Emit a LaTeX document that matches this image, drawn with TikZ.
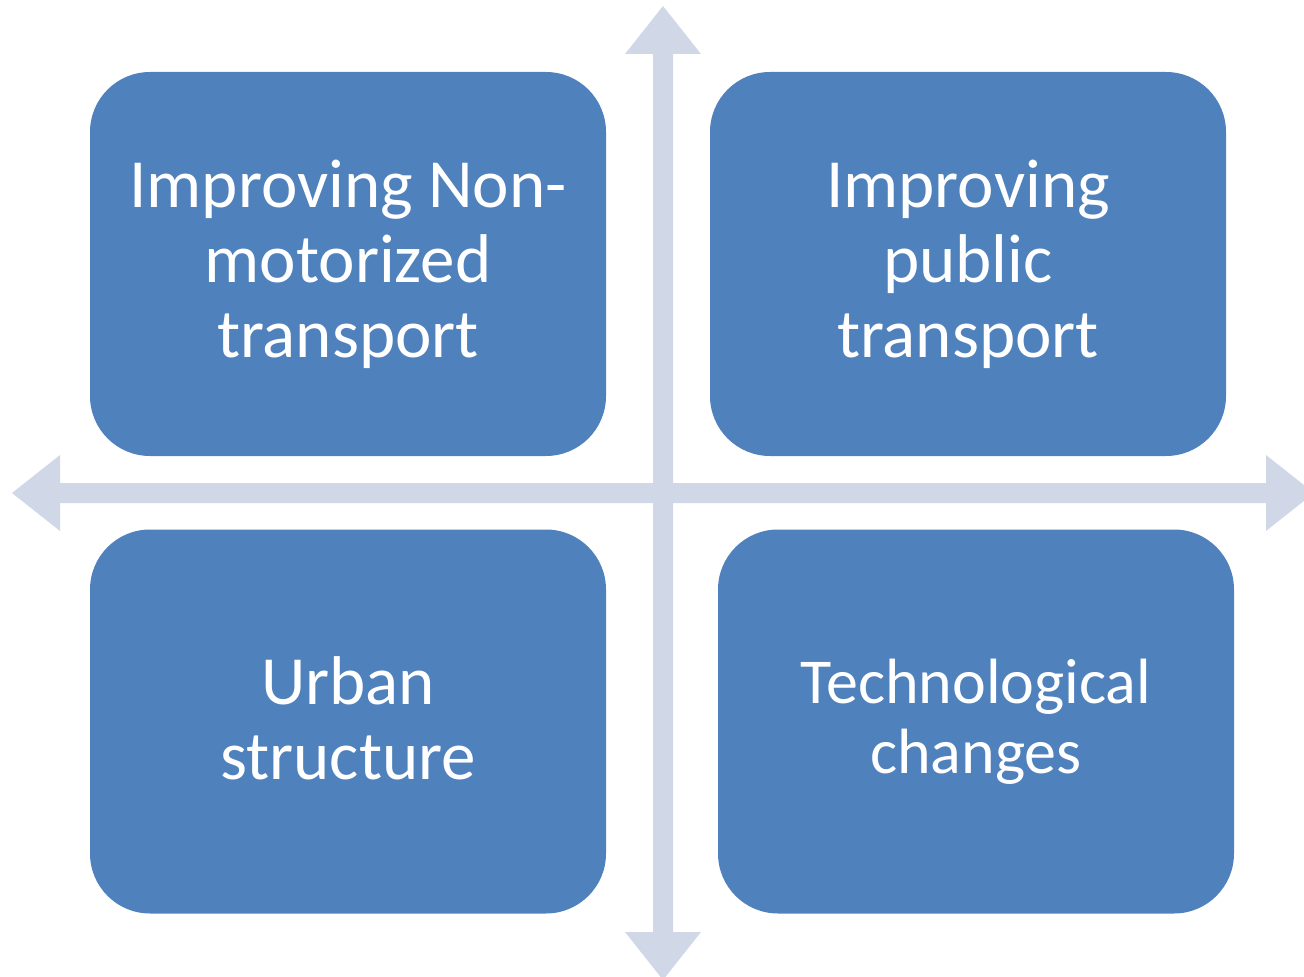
\documentclass[tikz,border=0pt]{standalone}
\usepackage{fontspec}
\setmainfont{Carlito}
\usepackage{xcolor}
\usepackage{tikz}
\usetikzlibrary{calc}
\definecolor{boxblue}{HTML}{4F81BD}
\definecolor{axisgray}{HTML}{D0D8E8}
\tikzset{
  axis/.style={fill=axisgray, draw=none},
  box/.style={rectangle, fill=boxblue, draw=none, rounded corners=45pt,
    minimum width=387pt, minimum height=288pt, inner sep=0pt},
  lab/.style={text=white, align=center, font=\fontsize{51.75}{56.25}\selectfont},
  labs/.style={text=white, align=center, font=\fontsize{48}{52.5}\selectfont},
}
\begin{document}
\begin{tikzpicture}[x=0.75pt,y=-0.75pt]
  \useasboundingbox (0,0) rectangle (1304,977);
  \def\L{651} \def\H{487} \def\hl{48} \def\hw{38} \def\sw{10}
  \coordinate (O) at (663,493);
  % horizontal and vertical double arrows
  \fill[axis] ($(O)+(-\L,0)$) -- ++(\hl,-\hw) -- ++(0,\hw-\sw) -- ($(O)+(\L-\hl,-\sw)$)
    -- ++(0,\sw-\hw) -- ($(O)+(\L,0)$) -- ++(-\hl,\hw) -- ++(0,\sw-\hw)
    -- ($(O)+(-\L+\hl,\sw)$) -- ++(0,\hw-\sw) -- cycle;
  \fill[axis] ($(O)+(0,-\H)$) -- ++(\hw,\hl) -- ++(\sw-\hw,0) -- ($(O)+(\sw,\H-\hl)$)
    -- ++(\hw-\sw,0) -- ($(O)+(0,\H)$) -- ++(-\hw,-\hl) -- ++(\hw-\sw,0)
    -- ($(O)+(-\sw,-\H+\hl)$) -- ++(\sw-\hw,0) -- cycle;
  % quadrants
  \node[box] (nmt) at (348,264) {};
  \node[box] (pub) at (968,264) {};
  \node[box] (urb) at (348,721.5) {};
  \node[box] (tec) at (976,721.5) {};
  \node[lab] (nmtlab) at (nmt) {Improving Non-\\motorized\\transport};
  \node[lab] (publab) at (pub) {Improving\\public\\transport};
  \node[lab] (urblab) at ($(urb)+(0,-3)$) {Urban\\structure};
  \node[labs] (teclab) at (tec) {Technological\\changes};
\end{tikzpicture}
\end{document}
